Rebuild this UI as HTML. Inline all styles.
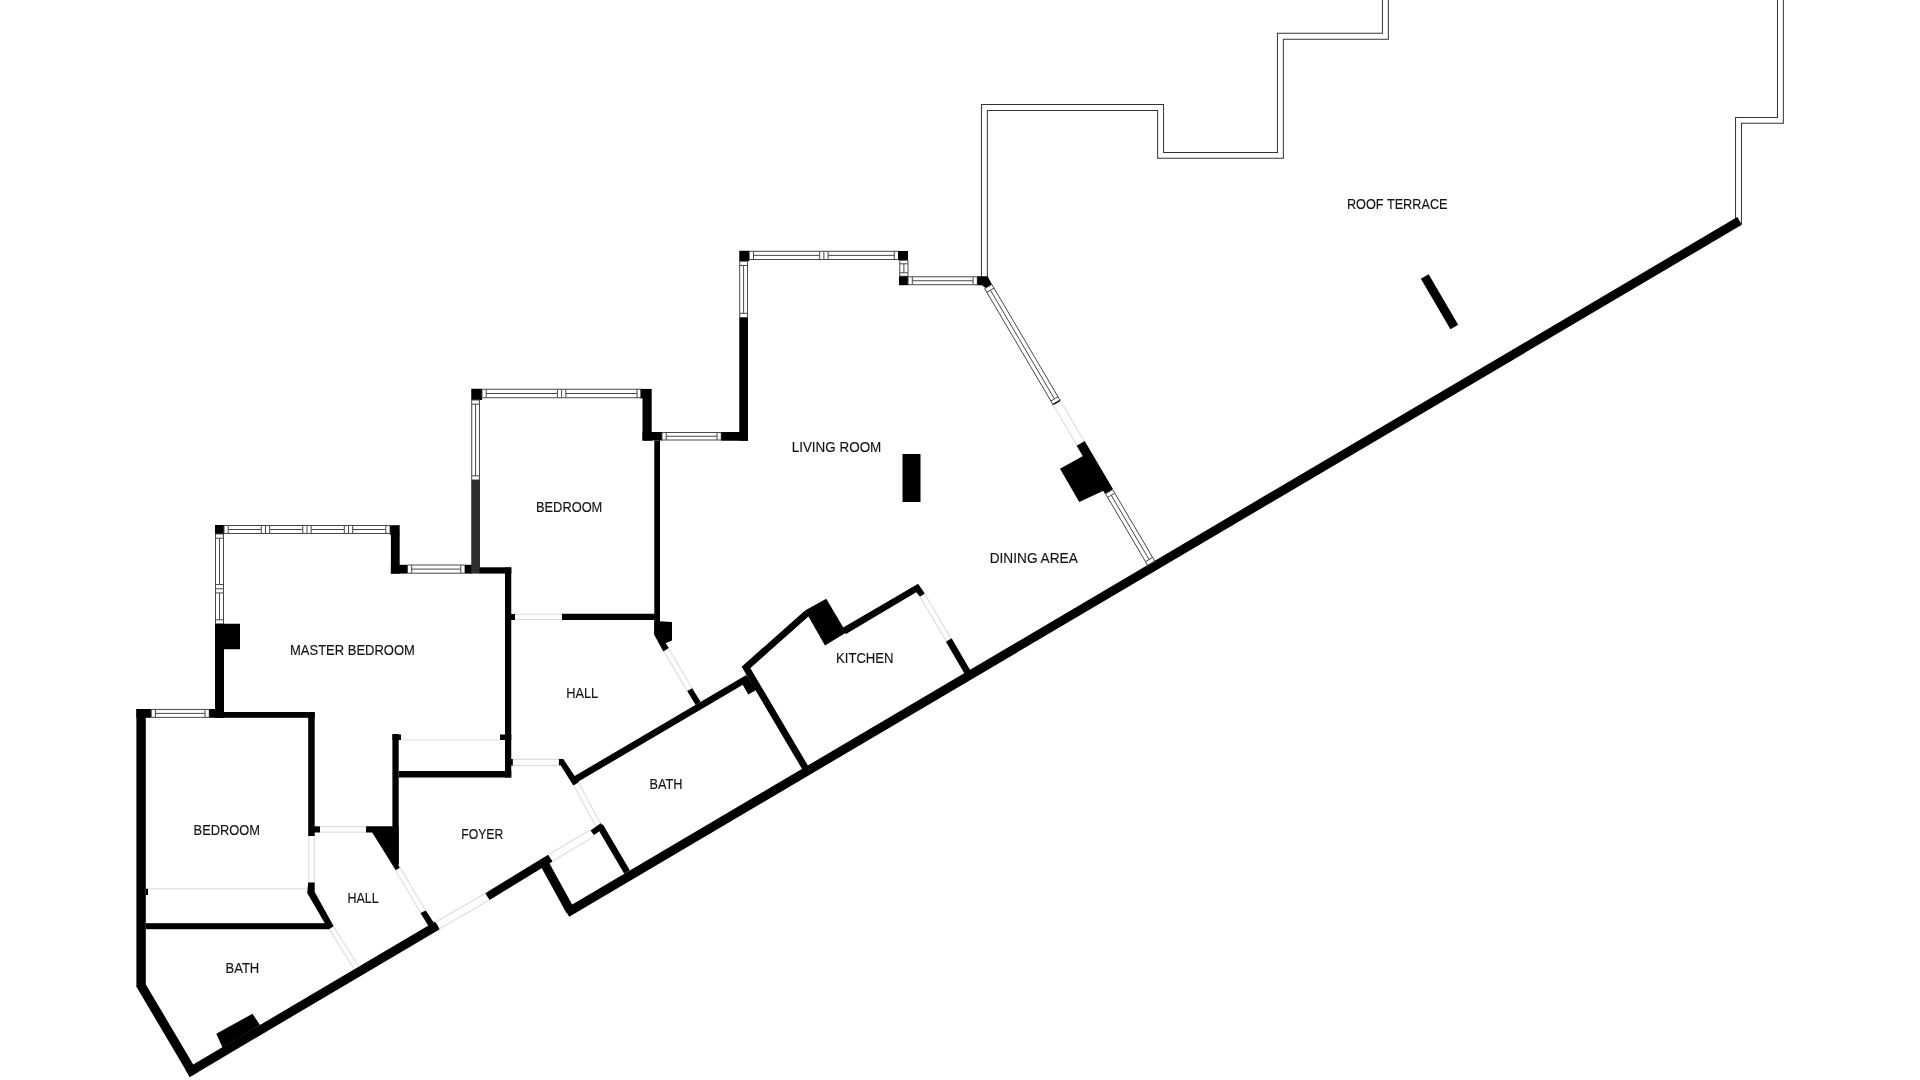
<!DOCTYPE html>
<html><head><meta charset="utf-8"><title>Floor plan</title>
<style>
html,body{margin:0;padding:0;background:#fff;}
body{width:1920px;height:1080px;overflow:hidden;}
svg{display:block;will-change:transform;}
text{font-family:"Liberation Sans",sans-serif;fill:#151515;stroke:#151515;stroke-width:0.15px;}
</style></head><body>
<svg width="1920" height="1080" viewBox="0 0 1920 1080">
<rect width="1920" height="1080" fill="#fff"/>
<polyline points="984.4,282 984.4,107.5 1160.6,107.5 1160.6,155.4 1280.4,155.4 1280.4,36.25 1385.4,36.25 1385.4,-10" fill="none" stroke="#333" stroke-width="6.9" stroke-linejoin="miter"/>
<polyline points="984.4,282 984.4,107.5 1160.6,107.5 1160.6,155.4 1280.4,155.4 1280.4,36.25 1385.4,36.25 1385.4,-10" fill="none" stroke="#fff" stroke-width="4.9" stroke-linejoin="miter"/>
<polyline points="1738.5,224 1738.5,120.4 1780.4,120.4 1780.4,-10" fill="none" stroke="#333" stroke-width="6.9" stroke-linejoin="miter"/>
<polyline points="1738.5,224 1738.5,120.4 1780.4,120.4 1780.4,-10" fill="none" stroke="#fff" stroke-width="4.9" stroke-linejoin="miter"/>
<polygon points="189.8,1076.9 439.8,929.2 435.23,921.45 185.23,1069.15" fill="#000"/>
<polygon points="569.2,916.7 1741.85,224.8 1737.28,217.05 564.63,908.95" fill="#000"/>
<polygon points="136.4,986.7 189.8,1076.9 197.81,1072.18 145.8,984.4" fill="#000"/>
<rect x="136.4" y="709" width="9.4" height="278" fill="#000"/>
<line x1="1424.75" y1="276.4" x2="1454.3" y2="326.9" stroke="#000" stroke-width="9" stroke-linecap="butt"/>
<rect x="136.4" y="709" width="14.85" height="8.8" fill="#000"/>
<polygon points="151.25,717.35 209.25,717.35 209.25,709.45 151.25,709.45" fill="#fff" stroke="#484848" stroke-width="1"/>
<line x1="155.45" y1="713.4" x2="205.05" y2="713.4" stroke="#484848" stroke-width="1" stroke-linecap="butt"/>
<line x1="155.45" y1="717.35" x2="155.45" y2="709.45" stroke="#484848" stroke-width="1" stroke-linecap="butt"/>
<line x1="205.05" y1="717.35" x2="205.05" y2="709.45" stroke="#484848" stroke-width="1" stroke-linecap="butt"/>
<rect x="209.25" y="709" width="14.75" height="8.8" fill="#000"/>
<rect x="215" y="712" width="99.7" height="5.8" fill="#000"/>
<rect x="308.2" y="712" width="6.5" height="124" fill="#000"/>
<rect x="312" y="826.3" width="8" height="6.2" fill="#000"/>
<line x1="320" y1="832.15" x2="366" y2="832.15" stroke="#dedede" stroke-width="1.15" stroke-linecap="butt"/>
<line x1="320" y1="826.65" x2="366" y2="826.65" stroke="#dedede" stroke-width="1.15" stroke-linecap="butt"/>
<polygon points="366,826.2 398.7,826.2 398.7,866 399.9,867.7 395.7,870.2 372.2,832.5 366,832.5" fill="#000"/>
<rect x="392.4" y="734" width="6.3" height="130" fill="#000"/>
<rect x="392.5" y="734.5" width="8.5" height="5.5" fill="#000"/>
<line x1="401" y1="740" x2="500" y2="740" stroke="#dedede" stroke-width="1" stroke-linecap="butt"/>
<rect x="500" y="734.5" width="11.25" height="5.5" fill="#000"/>
<rect x="398.75" y="771" width="112.5" height="6.5" fill="#000"/>
<rect x="505" y="567.5" width="6.25" height="210" fill="#000"/>
<line x1="145.8" y1="888.75" x2="308.75" y2="888.75" stroke="#dedede" stroke-width="1" stroke-linecap="butt"/>
<rect x="145.8" y="888.75" width="2.2" height="6.25" fill="#000"/>
<line x1="308.7" y1="836" x2="308.7" y2="882.5" stroke="#dedede" stroke-width="1.15" stroke-linecap="butt"/>
<line x1="314.2" y1="836" x2="314.2" y2="882.5" stroke="#dedede" stroke-width="1.15" stroke-linecap="butt"/>
<polygon points="308.2,882.5 314.7,882.5 314.7,891.9 333.7,926.2 329,929.2 328.3,929.2 307.2,893.1" fill="#000"/>
<rect x="145.8" y="923.2" width="182.8" height="6" fill="#000"/>
<line x1="329.1" y1="929.08" x2="354" y2="968.88" stroke="#dedede" stroke-width="1.15" stroke-linecap="butt"/>
<line x1="333.5" y1="926.32" x2="358.4" y2="966.12" stroke="#dedede" stroke-width="1.15" stroke-linecap="butt"/>
<rect x="215" y="525" width="9" height="9" fill="#000"/>
<polygon points="224,533.5 390,533.5 390,525.5 224,525.5" fill="#fff" stroke="#484848" stroke-width="1"/>
<line x1="228.2" y1="529.5" x2="261.3" y2="529.5" stroke="#484848" stroke-width="1" stroke-linecap="butt"/>
<line x1="228.2" y1="533.5" x2="228.2" y2="525.5" stroke="#484848" stroke-width="1" stroke-linecap="butt"/>
<line x1="261.3" y1="533.5" x2="261.3" y2="525.5" stroke="#484848" stroke-width="1" stroke-linecap="butt"/>
<line x1="269.7" y1="529.5" x2="302.8" y2="529.5" stroke="#484848" stroke-width="1" stroke-linecap="butt"/>
<line x1="269.7" y1="533.5" x2="269.7" y2="525.5" stroke="#484848" stroke-width="1" stroke-linecap="butt"/>
<line x1="302.8" y1="533.5" x2="302.8" y2="525.5" stroke="#484848" stroke-width="1" stroke-linecap="butt"/>
<line x1="265.5" y1="533.5" x2="265.5" y2="525.5" stroke="#484848" stroke-width="1" stroke-linecap="butt"/>
<line x1="311.2" y1="529.5" x2="344.3" y2="529.5" stroke="#484848" stroke-width="1" stroke-linecap="butt"/>
<line x1="311.2" y1="533.5" x2="311.2" y2="525.5" stroke="#484848" stroke-width="1" stroke-linecap="butt"/>
<line x1="344.3" y1="533.5" x2="344.3" y2="525.5" stroke="#484848" stroke-width="1" stroke-linecap="butt"/>
<line x1="307" y1="533.5" x2="307" y2="525.5" stroke="#484848" stroke-width="1" stroke-linecap="butt"/>
<line x1="352.7" y1="529.5" x2="385.8" y2="529.5" stroke="#484848" stroke-width="1" stroke-linecap="butt"/>
<line x1="352.7" y1="533.5" x2="352.7" y2="525.5" stroke="#484848" stroke-width="1" stroke-linecap="butt"/>
<line x1="385.8" y1="533.5" x2="385.8" y2="525.5" stroke="#484848" stroke-width="1" stroke-linecap="butt"/>
<line x1="348.5" y1="533.5" x2="348.5" y2="525.5" stroke="#484848" stroke-width="1" stroke-linecap="butt"/>
<rect x="390.2" y="525.2" width="9.5" height="9.8" fill="#000"/>
<rect x="390.9" y="534" width="8.8" height="39.6" fill="#000"/>
<rect x="390.9" y="564.8" width="16.7" height="8.8" fill="#000"/>
<polygon points="407.5,573.2 465,573.2 465,565 407.5,565" fill="#fff" stroke="#484848" stroke-width="1"/>
<line x1="411.7" y1="569.1" x2="460.8" y2="569.1" stroke="#484848" stroke-width="1" stroke-linecap="butt"/>
<line x1="411.7" y1="573.2" x2="411.7" y2="565" stroke="#484848" stroke-width="1" stroke-linecap="butt"/>
<line x1="460.8" y1="573.2" x2="460.8" y2="565" stroke="#484848" stroke-width="1" stroke-linecap="butt"/>
<rect x="465" y="564.8" width="7" height="8.8" fill="#000"/>
<polygon points="215.5,534 215.5,624 223.5,624 223.5,534" fill="#fff" stroke="#484848" stroke-width="1"/>
<line x1="219.5" y1="538.2" x2="219.5" y2="584.55" stroke="#484848" stroke-width="1" stroke-linecap="butt"/>
<line x1="215.5" y1="538.2" x2="223.5" y2="538.2" stroke="#484848" stroke-width="1" stroke-linecap="butt"/>
<line x1="215.5" y1="584.55" x2="223.5" y2="584.55" stroke="#484848" stroke-width="1" stroke-linecap="butt"/>
<line x1="219.5" y1="592.95" x2="219.5" y2="619.8" stroke="#484848" stroke-width="1" stroke-linecap="butt"/>
<line x1="215.5" y1="592.95" x2="223.5" y2="592.95" stroke="#484848" stroke-width="1" stroke-linecap="butt"/>
<line x1="215.5" y1="619.8" x2="223.5" y2="619.8" stroke="#484848" stroke-width="1" stroke-linecap="butt"/>
<line x1="215.5" y1="588.75" x2="223.5" y2="588.75" stroke="#484848" stroke-width="1" stroke-linecap="butt"/>
<rect x="215" y="623.75" width="25" height="25.5" fill="#000"/>
<rect x="215" y="649" width="9" height="69" fill="#000"/>
<rect x="471.25" y="388.75" width="10.75" height="11.25" fill="#000"/>
<polygon points="482,397.75 641.25,397.75 641.25,389.25 482,389.25" fill="#fff" stroke="#484848" stroke-width="1"/>
<line x1="486.2" y1="393.5" x2="557.42" y2="393.5" stroke="#484848" stroke-width="1" stroke-linecap="butt"/>
<line x1="486.2" y1="397.75" x2="486.2" y2="389.25" stroke="#484848" stroke-width="1" stroke-linecap="butt"/>
<line x1="557.42" y1="397.75" x2="557.42" y2="389.25" stroke="#484848" stroke-width="1" stroke-linecap="butt"/>
<line x1="565.83" y1="393.5" x2="637.05" y2="393.5" stroke="#484848" stroke-width="1" stroke-linecap="butt"/>
<line x1="565.83" y1="397.75" x2="565.83" y2="389.25" stroke="#484848" stroke-width="1" stroke-linecap="butt"/>
<line x1="637.05" y1="397.75" x2="637.05" y2="389.25" stroke="#484848" stroke-width="1" stroke-linecap="butt"/>
<line x1="561.62" y1="397.75" x2="561.62" y2="389.25" stroke="#484848" stroke-width="1" stroke-linecap="butt"/>
<rect x="640.5" y="388.9" width="11.2" height="9.4" fill="#000"/>
<rect x="642.5" y="398" width="9.2" height="42.7" fill="#000"/>
<polygon points="471.73,400 471.73,480 479.48,480 479.48,400" fill="#fff" stroke="#484848" stroke-width="1"/>
<line x1="475.6" y1="404.2" x2="475.6" y2="475.8" stroke="#484848" stroke-width="1" stroke-linecap="butt"/>
<line x1="471.73" y1="404.2" x2="479.48" y2="404.2" stroke="#484848" stroke-width="1" stroke-linecap="butt"/>
<line x1="471.73" y1="475.8" x2="479.48" y2="475.8" stroke="#484848" stroke-width="1" stroke-linecap="butt"/>
<rect x="471.25" y="480" width="8.75" height="93.6" fill="#2e2e2e"/>
<rect x="479.5" y="567.3" width="31.8" height="6.3" fill="#000"/>
<rect x="642.5" y="432" width="19.5" height="8.5" fill="#000"/>
<polygon points="662,440 721.25,440 721.25,432.5 662,432.5" fill="#fff" stroke="#484848" stroke-width="1"/>
<line x1="666.2" y1="436.25" x2="717.05" y2="436.25" stroke="#484848" stroke-width="1" stroke-linecap="butt"/>
<line x1="666.2" y1="440" x2="666.2" y2="432.5" stroke="#484848" stroke-width="1" stroke-linecap="butt"/>
<line x1="717.05" y1="440" x2="717.05" y2="432.5" stroke="#484848" stroke-width="1" stroke-linecap="butt"/>
<rect x="721.25" y="432" width="26.75" height="8.75" fill="#000"/>
<rect x="739.25" y="317.5" width="8.75" height="123.25" fill="#000"/>
<rect x="654.3" y="440.5" width="5.7" height="194.5" fill="#000"/>
<rect x="562" y="613.75" width="98" height="6.25" fill="#000"/>
<line x1="515" y1="619.52" x2="562" y2="619.52" stroke="#dedede" stroke-width="1.15" stroke-linecap="butt"/>
<line x1="515" y1="614.27" x2="562" y2="614.27" stroke="#dedede" stroke-width="1.15" stroke-linecap="butt"/>
<rect x="511" y="614" width="4" height="6" fill="#000"/>
<rect x="739.25" y="250.75" width="10" height="10.5" fill="#000"/>
<polygon points="749.25,259.5 898.5,259.5 898.5,251.3 749.25,251.3" fill="#fff" stroke="#484848" stroke-width="1"/>
<line x1="753.45" y1="255.4" x2="819.67" y2="255.4" stroke="#484848" stroke-width="1" stroke-linecap="butt"/>
<line x1="753.45" y1="259.5" x2="753.45" y2="251.3" stroke="#484848" stroke-width="1" stroke-linecap="butt"/>
<line x1="819.67" y1="259.5" x2="819.67" y2="251.3" stroke="#484848" stroke-width="1" stroke-linecap="butt"/>
<line x1="828.08" y1="255.4" x2="894.3" y2="255.4" stroke="#484848" stroke-width="1" stroke-linecap="butt"/>
<line x1="828.08" y1="259.5" x2="828.08" y2="251.3" stroke="#484848" stroke-width="1" stroke-linecap="butt"/>
<line x1="894.3" y1="259.5" x2="894.3" y2="251.3" stroke="#484848" stroke-width="1" stroke-linecap="butt"/>
<line x1="823.88" y1="259.5" x2="823.88" y2="251.3" stroke="#484848" stroke-width="1" stroke-linecap="butt"/>
<rect x="898.1" y="251" width="9.9" height="9.3" fill="#000"/>
<polygon points="899.8,260.3 899.8,276.3 908,276.3 908,260.3" fill="#fff" stroke="#484848" stroke-width="1"/>
<line x1="903.9" y1="263.8" x2="903.9" y2="272.8" stroke="#484848" stroke-width="1" stroke-linecap="butt"/>
<line x1="899.8" y1="263.8" x2="908" y2="263.8" stroke="#484848" stroke-width="1" stroke-linecap="butt"/>
<line x1="899.8" y1="272.8" x2="908" y2="272.8" stroke="#484848" stroke-width="1" stroke-linecap="butt"/>
<rect x="899" y="276.3" width="9.1" height="8.9" fill="#000"/>
<polygon points="908.1,284.7 977.3,284.7 977.3,276.8 908.1,276.8" fill="#fff" stroke="#484848" stroke-width="1"/>
<line x1="912.3" y1="280.75" x2="973.1" y2="280.75" stroke="#484848" stroke-width="1" stroke-linecap="butt"/>
<line x1="912.3" y1="284.7" x2="912.3" y2="276.8" stroke="#484848" stroke-width="1" stroke-linecap="butt"/>
<line x1="973.1" y1="284.7" x2="973.1" y2="276.8" stroke="#484848" stroke-width="1" stroke-linecap="butt"/>
<polygon points="977.3,276.3 987.6,276.3 992.1,284.4 985.6,288.1 981.9,285.2 977.3,285.2" fill="#000"/>
<polygon points="739.73,261.25 739.73,317.5 747.48,317.5 747.48,261.25" fill="#fff" stroke="#484848" stroke-width="1"/>
<line x1="743.6" y1="265.45" x2="743.6" y2="313.3" stroke="#484848" stroke-width="1" stroke-linecap="butt"/>
<line x1="739.73" y1="265.45" x2="747.48" y2="265.45" stroke="#484848" stroke-width="1" stroke-linecap="butt"/>
<line x1="739.73" y1="313.3" x2="747.48" y2="313.3" stroke="#484848" stroke-width="1" stroke-linecap="butt"/>
<rect x="902.5" y="454" width="18" height="48" fill="#000"/>
<polygon points="984.71,288.69 1052.98,404.58 1060.13,400.36 991.87,284.47" fill="#fff" stroke="#484848" stroke-width="1"/>
<line x1="990.42" y1="290.2" x2="1054.42" y2="398.85" stroke="#484848" stroke-width="1" stroke-linecap="butt"/>
<line x1="986.85" y1="292.31" x2="994" y2="288.09" stroke="#484848" stroke-width="1" stroke-linecap="butt"/>
<line x1="1050.85" y1="400.96" x2="1058" y2="396.74" stroke="#484848" stroke-width="1" stroke-linecap="butt"/>
<line x1="1060.56" y1="400.11" x2="1052.55" y2="404.83" stroke="#111" stroke-width="1.6" stroke-linecap="butt"/>
<line x1="1052.98" y1="404.58" x2="1077.09" y2="445.5" stroke="#dedede" stroke-width="1.15" stroke-linecap="butt"/>
<line x1="1060.13" y1="400.36" x2="1084.24" y2="441.29" stroke="#dedede" stroke-width="1.15" stroke-linecap="butt"/>
<line x1="1080.66" y1="443.4" x2="1109.08" y2="491.65" stroke="#000" stroke-width="9.3" stroke-linecap="butt"/>
<polygon points="1060,468.75 1082.5,456.25 1084.22,455.23 1106.72,488.98 1105,490 1079.25,502" fill="#000"/>
<polygon points="1105.51,493.75 1147.63,565.27 1154.79,561.06 1112.66,489.54" fill="#fff" stroke="#484848" stroke-width="1"/>
<line x1="1111.22" y1="495.27" x2="1149.08" y2="559.54" stroke="#484848" stroke-width="1" stroke-linecap="butt"/>
<line x1="1107.64" y1="497.37" x2="1114.79" y2="493.16" stroke="#484848" stroke-width="1" stroke-linecap="butt"/>
<line x1="1145.5" y1="561.65" x2="1152.65" y2="557.44" stroke="#484848" stroke-width="1" stroke-linecap="butt"/>
<polygon points="654.3,621 672,622 672,640.6 665.6,643.3 668.9,648.05 663.3,651.4 654.3,635" fill="#000"/>
<line x1="663.69" y1="651.12" x2="687.29" y2="691.12" stroke="#dedede" stroke-width="1.15" stroke-linecap="butt"/>
<line x1="668.51" y1="648.28" x2="692.11" y2="688.28" stroke="#dedede" stroke-width="1.15" stroke-linecap="butt"/>
<polygon points="687.2,691.1 692.2,688.3 700.6,701.7 695.6,705" fill="#000"/>
<line x1="575.5" y1="779.4" x2="748" y2="677.8" stroke="#000" stroke-width="6.7" stroke-linecap="butt"/>
<line x1="511.25" y1="765.6" x2="560" y2="765.6" stroke="#dedede" stroke-width="1.15" stroke-linecap="butt"/>
<line x1="511.25" y1="759.4" x2="560" y2="759.4" stroke="#dedede" stroke-width="1.15" stroke-linecap="butt"/>
<polygon points="558.9,759.1 563.3,759.1 578.9,782.2 573.3,785.6 560.6,765.3 558.9,765.3" fill="#000"/>
<rect x="510.5" y="759" width="2.3" height="6.6" fill="#000"/>
<line x1="573.68" y1="785.2" x2="595.78" y2="826.3" stroke="#dedede" stroke-width="1.15" stroke-linecap="butt"/>
<line x1="578.52" y1="782.6" x2="600.62" y2="823.7" stroke="#dedede" stroke-width="1.15" stroke-linecap="butt"/>
<polygon points="590.5,830.5 600.7,823.2 604,828 594,835" fill="#000"/>
<line x1="600" y1="826" x2="627" y2="872" stroke="#000" stroke-width="6.5" stroke-linecap="butt"/>
<polygon points="485.2,893.3 548.1,854.8 552.6,861.5 489.6,900" fill="#000"/>
<line x1="439.15" y1="928.98" x2="489.35" y2="899.98" stroke="#dedede" stroke-width="1.15" stroke-linecap="butt"/>
<line x1="435.25" y1="922.22" x2="485.45" y2="893.22" stroke="#dedede" stroke-width="1.15" stroke-linecap="butt"/>
<line x1="552.29" y1="861.36" x2="594.49" y2="836.36" stroke="#dedede" stroke-width="1.15" stroke-linecap="butt"/>
<line x1="548.31" y1="854.64" x2="590.51" y2="829.64" stroke="#dedede" stroke-width="1.15" stroke-linecap="butt"/>
<line x1="543" y1="861" x2="570.5" y2="911" stroke="#000" stroke-width="9" stroke-linecap="butt"/>
<polygon points="420.4,912.9 425.8,910.5 436,926 430,928.5" fill="#000"/>
<line x1="395.48" y1="870.27" x2="420.78" y2="913.07" stroke="#dedede" stroke-width="1.15" stroke-linecap="butt"/>
<line x1="400.12" y1="867.53" x2="425.42" y2="910.33" stroke="#dedede" stroke-width="1.15" stroke-linecap="butt"/>
<polyline points="807,613.2 746,667.4 806,769" fill="none" stroke="#000" stroke-width="6.8" stroke-linejoin="miter" stroke-miterlimit="10"/>
<polygon points="805,610.6 826.25,598.75 846.25,632.5 825,645.6" fill="#000"/>
<polygon points="841.5,628.4 918.1,583.7 924.75,593.5 920,596.7 916.25,592.2 846,634" fill="#000"/>
<line x1="920.07" y1="596.67" x2="946.42" y2="641.37" stroke="#dedede" stroke-width="1.15" stroke-linecap="butt"/>
<line x1="924.73" y1="593.93" x2="951.08" y2="638.63" stroke="#dedede" stroke-width="1.15" stroke-linecap="butt"/>
<line x1="948.75" y1="640" x2="968" y2="673" stroke="#000" stroke-width="6.6" stroke-linecap="butt"/>
<polygon points="742.8,685 746.7,675.6 756.2,690 748.3,694.6" fill="#000"/>
<polygon points="216.25,1033.75 252.5,1013.75 260,1025 222.5,1047.5" fill="#000"/>
<g>
<text x="1346.9" y="208.9" textLength="100.7" lengthAdjust="spacingAndGlyphs" font-size="13.9">ROOF TERRACE</text>
<text x="791.7" y="452" textLength="89.6" lengthAdjust="spacingAndGlyphs" font-size="13.9">LIVING ROOM</text>
<text x="989.7" y="562.8" textLength="88.1" lengthAdjust="spacingAndGlyphs" font-size="13.9">DINING AREA</text>
<text x="536" y="511.7" textLength="66.3" lengthAdjust="spacingAndGlyphs" font-size="13.9">BEDROOM</text>
<text x="290" y="654.85" textLength="124.9" lengthAdjust="spacingAndGlyphs" font-size="13.9">MASTER BEDROOM</text>
<text x="836" y="662.9" textLength="57.5" lengthAdjust="spacingAndGlyphs" font-size="13.9">KITCHEN</text>
<text x="566.25" y="698.3" textLength="31.85" lengthAdjust="spacingAndGlyphs" font-size="13.9">HALL</text>
<text x="649.5" y="788.75" textLength="33" lengthAdjust="spacingAndGlyphs" font-size="13.9">BATH</text>
<text x="461.2" y="838.9" textLength="42.1" lengthAdjust="spacingAndGlyphs" font-size="13.9">FOYER</text>
<text x="193.6" y="834.7" textLength="66.3" lengthAdjust="spacingAndGlyphs" font-size="13.9">BEDROOM</text>
<text x="347.5" y="902.5" textLength="31.25" lengthAdjust="spacingAndGlyphs" font-size="13.9">HALL</text>
<text x="225.5" y="972.5" textLength="33.75" lengthAdjust="spacingAndGlyphs" font-size="13.9">BATH</text>
</g>
</svg>
</body></html>
